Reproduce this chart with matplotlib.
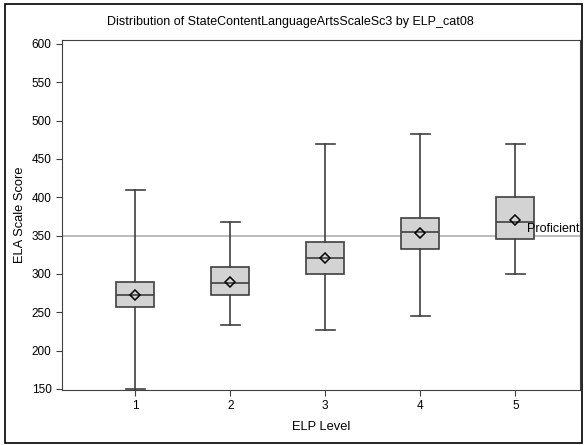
import matplotlib
matplotlib.use('Agg')
import matplotlib.pyplot as plt
from matplotlib.patches import Rectangle

plt.rcParams['font.family'] = ['Liberation Sans', 'DejaVu Sans']

# Box plot summaries
levels = [1, 2, 3, 4, 5]
whislo = [150, 233, 227, 245, 300]
q1 = [257, 273, 300, 332, 345]
median = [273, 288, 321, 355, 367]
q3 = [290, 309, 341, 373, 400]
whishi = [409, 367, 470, 482, 470]
means = [272, 290, 321, 353, 370]
proficient = 350

stats = []
for i in range(len(levels)):
    stats.append(dict(whislo=whislo[i], q1=q1[i], med=median[i], q3=q3[i],
                      whishi=whishi[i], mean=means[i], fliers=[]))

fig = plt.figure(figsize=(5.84, 4.45), dpi=100)
ax = fig.add_axes([62 / 584, 1 - 390 / 445, 518 / 584, 350 / 445])

# outer frame around the whole graphic
fig.patches.append(Rectangle((5 / 584, 2 / 445), 577 / 584, 439 / 445,
                             transform=fig.transFigure, fill=False,
                             edgecolor='black', linewidth=1.2))

ax.axhline(proficient, color='#b0b0b0', linewidth=1.2, zorder=1)
ax.text(5.68, proficient + 1, 'Proficient', ha='right', va='bottom', fontsize=9)

line = dict(color='#404040', linewidth=1.2)
ax.bxp(stats, positions=levels, widths=0.4, patch_artist=True, showmeans=True,
       boxprops=dict(facecolor='#d3d3d3', edgecolor='#404040', linewidth=1.2),
       medianprops=line, whiskerprops=line, capprops=line,
       meanprops=dict(marker='D', markerfacecolor='none', markeredgecolor='black',
                      markersize=5.5, markeredgewidth=1.1),
       capwidths=0.2, zorder=2)

ax.set_xlim(0.23, 5.68)
ax.set_ylim(148.5, 605)
ax.set_yticks(range(150, 601, 50))
ax.set_xticks(levels)
ax.set_xticklabels([str(l) for l in levels])
ax.tick_params(labelsize=8.5, length=4, color='#404040')
for s in ax.spines.values():
    s.set_color('#404040')

ax.set_xlabel('ELP Level', fontsize=9.3, labelpad=6)
ax.set_ylabel('ELA Scale Score', fontsize=9.3)
fig.text(0.497, 1 - 22 / 445, 'Distribution of StateContentLanguageArtsScaleSc3 by ELP_cat08',
         ha='center', va='center', fontsize=9)

fig.savefig('out.png', dpi=100)
